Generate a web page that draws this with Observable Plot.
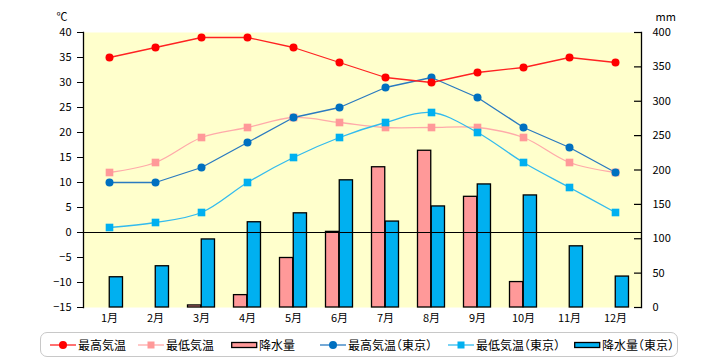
<!DOCTYPE html>
<html>
<head>
<meta charset="utf-8">
<script src="https://cdn.jsdelivr.net/npm/d3@7"></script>
<script src="https://cdn.jsdelivr.net/npm/@observablehq/plot@0.6"></script>
<style>
  html, body { margin: 0; padding: 0; background: #fff; }
  #chart { position: relative; width: 720px; height: 360px; font-family: "Noto Sans CJK JP", sans-serif; }
  #legend { position: absolute; left: 40px; top: 332px; width: 636px; height: 23px; border: 1.5px solid #c8c8c8; border-radius: 7px; background: #fff; }
  .item { position: absolute; top: 0; height: 23px; display: flex; align-items: center; font-size: 12px; color: #000; white-space: nowrap; font-feature-settings: "halt"; }
  .item svg { margin-right: 1px; }
</style>
</head>
<body>
<div id="chart"></div>
<script>
const months = ["1月","2月","3月","4月","5月","6月","7月","8月","9月","10月","11月","12月"];
const highLocal = [35, 37, 39, 39, 37, 34, 31, 30, 32, 33, 35, 34];
const lowLocal  = [12, 14, 19, 21, 23, 22, 21, 21, 21, 19, 14, 12];
const rainLocal = [0, 0, 3, 18, 72, 110, 204, 228, 161, 37, 0, 0];
const highTokyo = [10, 10, 13, 18, 23, 25, 29, 31, 27, 21, 17, 12];
const lowTokyo  = [1, 2, 4, 10, 15, 19, 22, 24, 20, 14, 9, 4];
const rainTokyo = [44, 60, 99, 124, 137, 185, 125, 147, 179, 163, 89, 45];
const tempTicks = [-15, -10, -5, 0, 5, 10, 15, 20, 25, 30, 35, 40];
const mmTicks = [0, 50, 100, 150, 200, 250, 300, 350, 400];

const tempMin = -15, tempMax = 40, mmMax = 400;
const mmToTemp = mm => tempMin + mm * (tempMax - tempMin) / mmMax;
const tempToMm = t => Math.round((t - tempMin) * mmMax / (tempMax - tempMin));

const rows = months.map((m, i) => ({
  month: m,
  highLocal: highLocal[i], lowLocal: lowLocal[i], rainLocal: rainLocal[i],
  highTokyo: highTokyo[i], lowTokyo: lowTokyo[i], rainTokyo: rainTokyo[i]
}));

const font = "Noto Sans CJK JP";
const W = 720, mL = 83, mR = 79;
const frameWidth = W - mL - mR;

const svg = Plot.plot({
  width: W,
  height: 328,
  marginTop: 32,
  marginBottom: 21,
  marginLeft: mL,
  marginRight: mR,
  style: { fontFamily: font, fontSize: "11px", background: "transparent", color: "#000" },
  x: { type: "band", domain: months, padding: 0 },
  y: { domain: [tempMin, tempMax] },
  marks: [
    Plot.frame({ fill: "#ffffcc", stroke: null }),
    // precipitation bars
    Plot.barY(rows.filter(d => d.rainLocal > 0), {
      x: "month", y1: tempMin, y2: d => mmToTemp(d.rainLocal),
      fill: "#ff9999", stroke: "#000", strokeWidth: 1.3, insetLeft: 9.5, insetRight: 23.25
    }),
    Plot.barY(rows.filter(d => d.rainTokyo > 0), {
      x: "month", y1: tempMin, y2: d => mmToTemp(d.rainTokyo),
      fill: "#00b0f0", stroke: "#000", strokeWidth: 1.3, insetLeft: 23.25, insetRight: 9.5
    }),
    Plot.ruleY([0], { stroke: "#000", strokeWidth: 1.2 }),
    // lines
    Plot.line(rows, { x: "month", y: "lowLocal", stroke: "#ffaaaa", strokeWidth: 1.3, curve: "catmull-rom" }),
    Plot.line(rows, { x: "month", y: "lowTokyo", stroke: "#33bbee", strokeWidth: 1.3, curve: "catmull-rom" }),
    Plot.line(rows, { x: "month", y: "highTokyo", stroke: "#2a7ac0", strokeWidth: 1.3 }),
    Plot.line(rows, { x: "month", y: "highLocal", stroke: "#ff2222", strokeWidth: 1.3 }),
    // markers
    Plot.dot(rows, { x: "month", y: "lowLocal", symbol: "square", r: 4.3, fill: "#ff9999", stroke: null }),
    Plot.dot(rows, { x: "month", y: "lowTokyo", symbol: "square", r: 4.3, fill: "#00b0f0", stroke: null }),
    Plot.dot(rows, { x: "month", y: "highTokyo", r: 4, fill: "#0070c0", stroke: null }),
    Plot.dot(rows, { x: "month", y: "highLocal", r: 4, fill: "#ff0000", stroke: null }),
    // axes
    Plot.frame({ anchor: "left", stroke: "#000", strokeWidth: 1.3 }),
    Plot.frame({ anchor: "right", stroke: "#000", strokeWidth: 1.3 }),
    Plot.axisY({ anchor: "left", ticks: tempTicks, tickSize: 6, tickPadding: 6, label: null, fontSize: 11 }),
    Plot.axisY({ anchor: "right", ticks: mmTicks.map(mmToTemp), tickFormat: t => String(tempToMm(t)), tickSize: 0, tickPadding: 11, label: null, fontSize: 11 }),
    Plot.tickY(mmTicks.map(mmToTemp), { y: d => d, stroke: "#000", strokeWidth: 1.2, insetLeft: frameWidth - 7 }),
    Plot.axisX({ tickSize: 0, tickPadding: 7, label: null, fontSize: 11 }),
    Plot.text(["℃"], { frameAnchor: "top-left", dx: -27, dy: -19, fontSize: 11, textAnchor: "start" }),
    Plot.text(["mm"], { frameAnchor: "top-right", dx: 14, dy: -19, fontSize: 11, textAnchor: "start" })
  ]
});

const chart = document.getElementById("chart");
chart.appendChild(svg);

// legend
const legendItems = [
  { label: "最高気温", type: "circle", color: "#ff0000", line: "#ff2222", swatchX: 50 },
  { label: "最低気温", type: "square", color: "#ff9999", line: "#ffaaaa", swatchX: 138 },
  { label: "降水量", type: "bar", color: "#ff9999", swatchX: 231 },
  { label: "最高気温（東京）", type: "circle", color: "#0070c0", line: "#2a7ac0", swatchX: 320 },
  { label: "最低気温（東京）", type: "square", color: "#00b0f0", line: "#33bbee", swatchX: 448 },
  { label: "降水量（東京）", type: "bar", color: "#00b0f0", swatchX: 574 }
];
const legend = document.createElement("div");
legend.id = "legend";
chart.appendChild(legend);
for (const it of legendItems) {
  const div = document.createElement("div");
  div.className = "item";
  div.style.left = (it.swatchX - 41) + "px";
  let sw = "";
  if (it.type === "circle") {
    sw = `<line x1="0" x2="26" y1="6" y2="6" stroke="${it.line}" stroke-width="1.3"/><circle cx="13" cy="6" r="4" fill="${it.color}"/>`;
  } else if (it.type === "square") {
    sw = `<line x1="0" x2="26" y1="6" y2="6" stroke="${it.line}" stroke-width="1.3"/><rect x="9.5" y="2.5" width="7" height="7" fill="${it.color}"/>`;
  } else {
    sw = `<rect x="0.7" y="3.5" width="25" height="5" fill="${it.color}" stroke="#000" stroke-width="1.3"/>`;
  }
  div.innerHTML = `<svg width="27" height="12">${sw}</svg><span>${it.label}</span>`;
  legend.appendChild(div);
}
</script>
</body>
</html>
